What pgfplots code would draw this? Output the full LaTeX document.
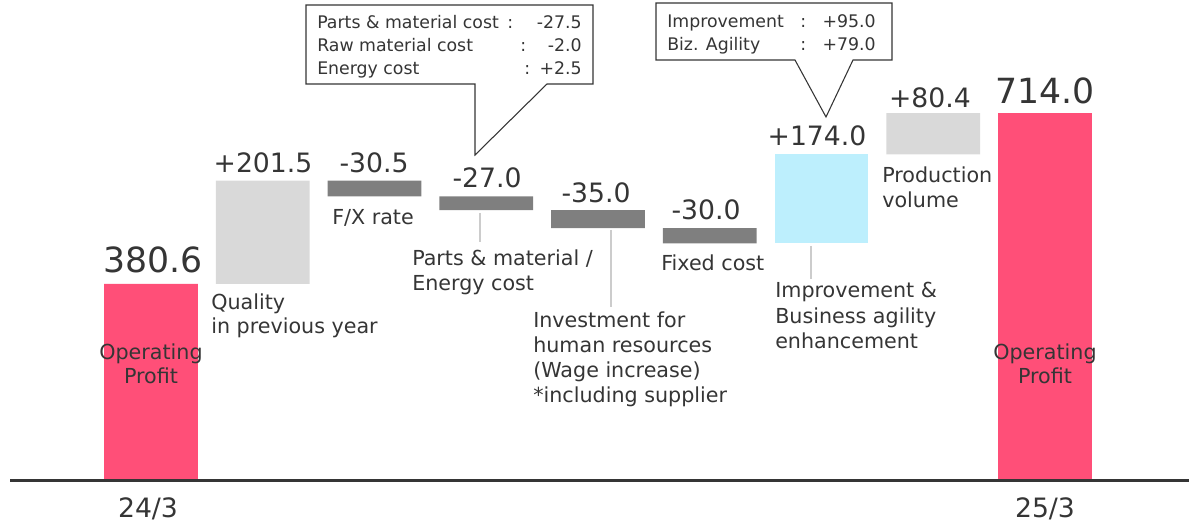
\documentclass[border=0pt]{standalone}
\usepackage{pgfplots}
\pgfplotsset{compat=1.18}
\usepackage{fontspec}
\setmainfont{DejaVu Sans}
\definecolor{pinkbar}{HTML}{FF4F78}
\definecolor{lgray}{HTML}{D9D9D9}
\definecolor{dgray}{HTML}{7F7F7F}
\definecolor{lblue}{HTML}{BDEFFD}
\definecolor{txt}{HTML}{353535}
\definecolor{conn}{HTML}{CCCCCC}

\begin{document}
\begin{tikzpicture}[
  lbl/.style={font=\fontsize{15.5}{18}\selectfont, text=txt, anchor=base west, inner sep=0pt},
  ctr/.style={font=\fontsize{15.5}{18}\selectfont, text=txt, anchor=base, inner sep=0pt},
  num/.style={font=\fontsize{20}{24}\selectfont, text=txt, anchor=base, inner sep=0pt},
  big/.style={font=\fontsize{26}{30}\selectfont, text=txt, anchor=base, inner sep=0pt},
  box/.style={font=\fontsize{13}{15}\selectfont, text=txt, inner sep=0pt},
]
\path[use as bounding box] (0,0) rectangle (891.75pt,391.5pt);
\begin{axis}[
  at={(0,0)}, anchor=south west,
  scale only axis, width=891.75pt, height=391.5pt,
  hide axis, clip=false,
  xmin=-1.3512, xmax=9.2886,
  ymin=-83.9, ymax=934.6,
  ybar stacked, bar width=0.841,
]
% invisible base of the waterfall
\addplot[draw=none, fill=none] coordinates {(0,0) (1,380.6) (2,551.6) (3,524.6) (4,489.6) (5,459.6) (6,459.6) (7,633.6) (8,0)};
% operating profit
\addplot[draw=none, fill=pinkbar] coordinates {(0,380.6) (1,0) (2,0) (3,0) (4,0) (5,0) (6,0) (7,0) (8,714.0)};
% quality / production volume
\addplot[draw=none, fill=lgray] coordinates {(0,0) (1,201.5) (2,0) (3,0) (4,0) (5,0) (6,0) (7,80.4) (8,0)};
% negative items
\addplot[draw=none, fill=dgray] coordinates {(0,0) (1,0) (2,30.5) (3,27.0) (4,35.0) (5,30.0) (6,0) (7,0) (8,0)};
% improvement
\addplot[draw=none, fill=lblue] coordinates {(0,0) (1,0) (2,0) (3,0) (4,0) (5,0) (6,174.0) (7,0) (8,0)};
\end{axis}

\begin{scope}[x=0.75pt, y=-0.75pt, shift={(0,391.5pt)}]
% baseline
\draw[txt, line width=1.6pt] (10,480.5) -- (1189,480.5);
% connectors
\draw[conn, line width=1.5pt] (480,213) -- (480,242);
\draw[conn, line width=1.5pt] (611,230) -- (611,307);
\draw[conn, line width=1.5pt] (811,246) -- (811,279);
% values
\node[big] at (153,273) {380.6};
\node[num] at (263,173) {+201.5};
\node[num] at (374,173) {-30.5};
\node[num] at (487,188) {-27.0};
\node[num] at (596,203) {-35.0};
\node[num] at (706,220) {-30.0};
\node[num] at (817,146) {+174.0};
\node[num] at (930,108) {+80.4};
\node[big] at (1045,104) {714.0};
% category labels
\node[lbl] at (211,309) {Quality};
\node[lbl] at (211,333) {in previous year};
\node[lbl] at (332,225) {F/X rate};
\node[lbl] at (412,266) {Parts \& material /};
\node[lbl] at (412,291) {Energy cost};
\node[lbl] at (661,270) {Fixed cost};
\node[lbl] at (533,327) {Investment for};
\node[lbl] at (533,352) {human resources};
\node[lbl] at (533,377) {(Wage increase)};
\node[lbl] at (533,402) {*including supplier};
\node[lbl] at (775,298) {Improvement \&};
\node[lbl] at (775,323) {Business agility};
\node[lbl] at (775,348) {enhancement};
\node[lbl] at (882,183) {Production};
\node[lbl] at (882,208) {volume};
\node[ctr] at (151,359) {Operating};
\node[ctr] at (151,383) {Profit};
\node[ctr] at (1045,359) {Operating};
\node[ctr] at (1045,383) {Profit};
\node[num] at (148,517) {24/3};
\node[num] at (1045,517) {25/3};
% callout 1
\draw[txt, line width=0.8pt, fill=white] (306,5) -- (593,5) -- (593,84) -- (547,84) -- (475,155) -- (475,84) -- (306,84) -- cycle;
\node[box, anchor=base west] at (317,29) {Parts \& material cost};
\node[box, anchor=base west] at (317,52) {Raw material cost};
\node[box, anchor=base west] at (317,75) {Energy cost};
\node[box, anchor=base west] at (507,29) {:};
\node[box, anchor=base west] at (520,52) {:};
\node[box, anchor=base west] at (524,75) {:};
\node[box, anchor=base east] at (582,29) {-27.5};
\node[box, anchor=base east] at (582,52) {-2.0};
\node[box, anchor=base east] at (582,75) {+2.5};
% callout 2
\draw[txt, line width=0.8pt, fill=white] (656,3) -- (892,3) -- (892,60) -- (853,60) -- (826,117) -- (795,60) -- (656,60) -- cycle;
\node[box, anchor=base west] at (667,28) {Improvement};
\node[box, anchor=base west] at (667,51) {Biz. Agility};
\node[box, anchor=base west] at (800,28) {:};
\node[box, anchor=base west] at (800,51) {:};
\node[box, anchor=base east] at (876,28) {+95.0};
\node[box, anchor=base east] at (876,51) {+79.0};
\end{scope}
\end{tikzpicture}
\end{document}
